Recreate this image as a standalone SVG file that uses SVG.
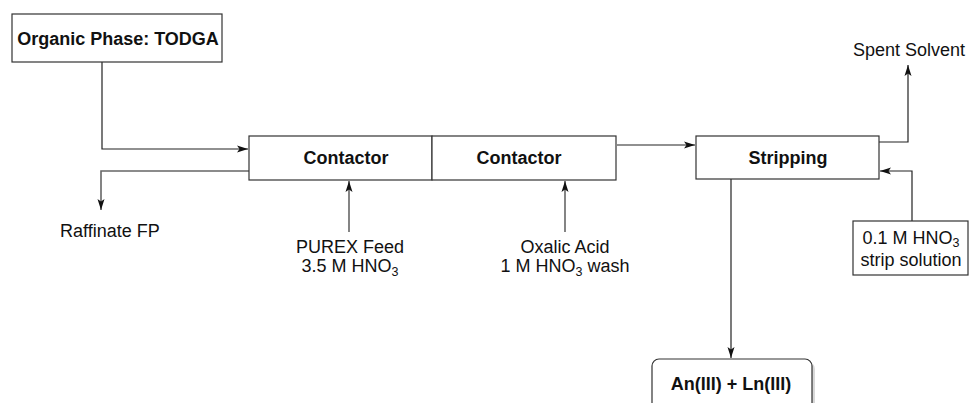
<svg xmlns="http://www.w3.org/2000/svg" width="969" height="403" viewBox="0 0 969 403">
  <defs>
    <style>
      .box { fill: #ffffff; stroke: #333333; stroke-width: 1.2; }
      .lbl { font-family: "Liberation Sans", Arial, sans-serif; font-size: 18px; fill: #111111; }
      .bold { font-weight: bold; }
      .mid { text-anchor: middle; }
      .sub { font-size: 12.5px; }
      .flow { fill: none; stroke: #222222; stroke-width: 1.2; }
      .flow-g { fill: none; stroke: #666666; stroke-width: 1.6; }
    </style>
    <marker id="arrow" markerWidth="12" markerHeight="8" refX="11" refY="4" orient="auto" markerUnits="userSpaceOnUse">
      <path d="M0,0.5 L11,4 L0,7.5 L2.5,4 z" fill="#111111"/>
    </marker>
  </defs>
  <rect width="969" height="403" fill="#ffffff"/>

  <!-- connectors -->
  <g id="connectors">
    <path class="flow" d="M102,62 V149 H248" marker-end="url(#arrow)"/>
    <path class="flow-g" d="M249,171 H101 V210" marker-end="url(#arrow)"/>
    <path class="flow-g" d="M349,232 V181" marker-end="url(#arrow)"/>
    <path class="flow-g" d="M565,232 V181" marker-end="url(#arrow)"/>
    <path class="flow" d="M617,145 H695" marker-end="url(#arrow)"/>
    <path class="flow" d="M879,142 H908 V65" marker-end="url(#arrow)"/>
    <path class="flow" d="M912,221 V171 H880" marker-end="url(#arrow)"/>
    <path class="flow" d="M731,179 V358" marker-end="url(#arrow)"/>
  </g>

  <g id="organic-phase">
    <rect class="box" x="12" y="14" width="210" height="48"/>
    <text class="lbl bold mid" x="118" y="45">Organic Phase: TODGA</text>
  </g>

  <g id="contactor-1">
    <rect class="box" x="249" y="136" width="183" height="44"/>
    <text class="lbl bold mid" x="346" y="164">Contactor</text>
  </g>

  <g id="contactor-2">
    <rect class="box" x="432" y="136" width="184" height="44"/>
    <text class="lbl bold mid" x="519" y="164">Contactor</text>
  </g>

  <g id="stripping">
    <rect class="box" x="696" y="136" width="183" height="43"/>
    <text class="lbl bold mid" x="788" y="164">Stripping</text>
  </g>

  <g id="strip-solution">
    <rect class="box" x="853" y="221" width="115" height="54"/>
    <text class="lbl mid" x="911" y="244">0.1 M HNO<tspan class="sub" dy="3">3</tspan></text>
    <text class="lbl mid" x="911" y="266">strip solution</text>
  </g>

  <g id="product">
    <rect x="655" y="362" width="160" height="60" rx="7" fill="#d8d8d8"/>
    <rect class="box" x="652" y="359" width="160" height="60" rx="7"/>
    <text class="lbl bold mid" x="731" y="390">An(III) + Ln(III)</text>
  </g>

  <g id="raffinate">
    <text class="lbl" x="60" y="237">Raffinate FP</text>
  </g>

  <g id="purex-feed">
    <text class="lbl mid" x="350" y="253">PUREX Feed</text>
    <text class="lbl mid" x="350" y="272">3.5 M HNO<tspan class="sub" dy="4">3</tspan></text>
  </g>

  <g id="oxalic-wash">
    <text class="lbl mid" x="565" y="253">Oxalic Acid</text>
    <text class="lbl mid" x="565" y="272">1 M HNO<tspan class="sub" dy="4">3</tspan><tspan dy="-4"> wash</tspan></text>
  </g>

  <g id="spent-solvent">
    <text class="lbl mid" x="909" y="56">Spent Solvent</text>
  </g>
</svg>
